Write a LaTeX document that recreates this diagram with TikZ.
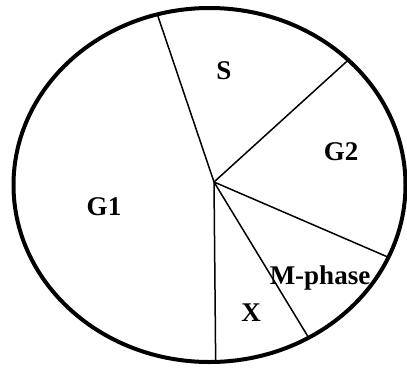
\documentclass[tikz,border=0pt]{standalone}
\usepackage{fontspec}
\setmainfont{Liberation Serif}
\usetikzlibrary{shapes.geometric}
\begin{document}
\begin{tikzpicture}[x=1pt,y=-1pt,
  cellwall/.style={draw, ellipse, line width=4pt, minimum width=392pt, minimum height=354pt, inner sep=0pt, outer sep=0pt},
  spoke/.style={line width=1.5pt},
  phase/.style={font=\bfseries\fontsize{27}{32}\selectfont, inner sep=0pt}]
\useasboundingbox (0,0) rectangle (407,368);
\node[cellwall] (cell) at (209.5,185) {};
\coordinate (c) at (214,182);
\draw[spoke] (c) -- (cell.107.25);
\draw[spoke] (c) -- (cell.42.3);
\draw[spoke] (c) -- (cell.-22.6);
\draw[spoke] (c) -- (cell.-57.9);
\draw[spoke] (c) -- (cell.-88.2);
\node[phase] (s) at (224,71) {S};
\node[phase] (g2) at (341,152) {G2};
\node[phase] (g1) at (104,207) {G1};
\node[phase] (m) at (320,278) {M-phase};
\node[phase] (x) at (251,313) {X};
\end{tikzpicture}
\end{document}
